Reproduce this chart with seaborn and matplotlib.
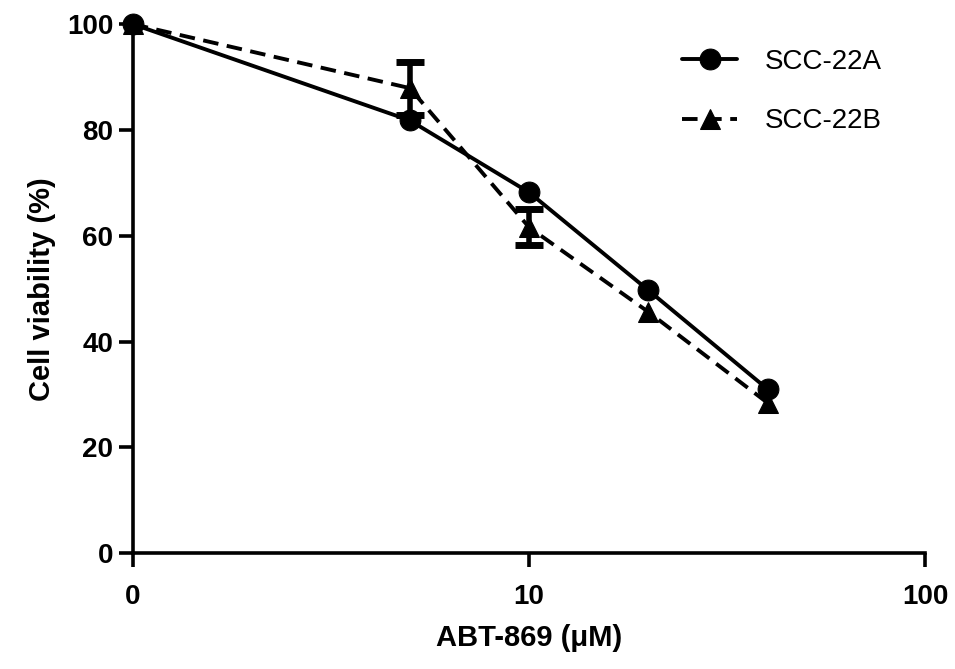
import matplotlib
matplotlib.use("Agg")
import matplotlib.pyplot as plt
import numpy as np
import pandas as pd
import seaborn as sns

# Data (0 uM is drawn at the first decade, as in GraphPad)
conc = [0, 5, 10, 20, 40]
scc22a = [100, 81.8, 68.2, 49.7, 31.0]
scc22b = [100, 87.9, 61.6, 45.6, 28.4]
scc22b_err = [0, 5.0, 3.4, 0, 0]
xtick_vals = [1, 10, 100]
xtick_labels = ["0", "10", "100"]
ytick_vals = [0, 20, 40, 60, 80, 100]

sns.set_style("ticks")
plt.rcParams['font.family'] = ['Liberation Sans', 'DejaVu Sans']
plt.rcParams['text.color'] = 'black'
plt.rcParams['axes.labelcolor'] = 'black'
plt.rcParams['xtick.color'] = 'black'
plt.rcParams['ytick.color'] = 'black'

x_plot = [1 if c == 0 else c for c in conc]
df = pd.DataFrame({
    'conc': x_plot * 2,
    'viability': scc22a + scc22b,
    'line': ['SCC-22A'] * len(conc) + ['SCC-22B'] * len(conc),
})

fig = plt.figure(figsize=(9.55, 6.69), dpi=100)
ax = fig.add_axes([0.139, 0.173, 0.830, 0.791])
ax.set_xscale('log')

# error bars only where SEM is visible
ex = [x for x, e in zip(x_plot, scc22b_err) if e > 0]
ey = [y for y, e in zip(scc22b, scc22b_err) if e > 0]
ee = [e for e in scc22b_err if e > 0]
ax.errorbar(ex, ey, yerr=ee, fmt='none', ecolor='black',
            elinewidth=4, capsize=10, capthick=5, zorder=2, clip_on=False)

sns.lineplot(data=df, x='conc', y='viability', style='line',
             markers={'SCC-22A': 'o', 'SCC-22B': '^'},
             dashes={'SCC-22A': '', 'SCC-22B': (4, 2.2)},
             color='black', linewidth=2.8, markersize=15,
             markeredgecolor='black', ax=ax, zorder=3, clip_on=False)

ax.set_xlim(1, 100)
ax.set_ylim(0, 100)
ax.set_xticks(xtick_vals)
ax.set_xticklabels(xtick_labels)
ax.xaxis.set_minor_locator(matplotlib.ticker.NullLocator())
ax.set_yticks(ytick_vals)

for s in ['top', 'right']:
    ax.spines[s].set_visible(False)
for s in ['left', 'bottom']:
    ax.spines[s].set_linewidth(2.6)
    ax.spines[s].set_color('black')

ax.tick_params(axis='both', direction='out', width=2.6, length=10,
               color='black', labelcolor='black', labelsize=20)
ax.tick_params(axis='x', pad=12)
ax.tick_params(axis='y', pad=4)
for lab in ax.get_xticklabels() + ax.get_yticklabels():
    lab.set_fontweight('bold')

ax.set_xlabel('ABT-869 (\u03bcM)', fontsize=21, fontweight='bold', labelpad=10)
ax.set_ylabel('Cell viability (%)', fontsize=21, fontweight='bold', labelpad=8)

leg = ax.legend(loc='upper right', bbox_to_anchor=(0.977, 1.0), frameon=False,
                fontsize=20, handlelength=2.0, handletextpad=1.0,
                labelspacing=1.2)

fig.savefig('out.png', dpi=100)
